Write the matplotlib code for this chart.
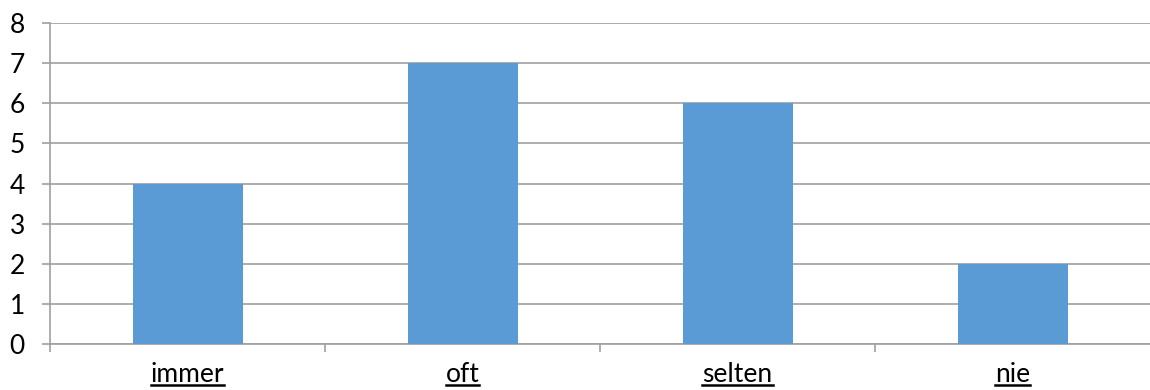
import numpy as np
import matplotlib.pyplot as plt
from matplotlib.lines import Line2D
from matplotlib.ticker import FixedLocator, NullFormatter

# --- Daten ---
categories = ["immer", "oft", "selten", "nie"]
values = [4, 7, 6, 2]
y_ticks = list(range(0, 9))

plt.rcParams['font.family'] = ['Lato', 'DejaVu Sans']

grid_color = '#a0a0a0'
bar_color = '#5b9bd5'

fig = plt.figure(figsize=(11.5, 3.9), dpi=100)
ax = fig.add_axes([50 / 1150, 1 - 344 / 390, 1 - 50 / 1150, (344 - 23) / 390])

x = np.arange(len(categories))
ax.bar(x, values, width=0.4, color=bar_color, zorder=3)

ax.set_xlim(-0.5, len(categories) - 0.5)
ax.set_ylim(0, 8)
ax.set_yticks(y_ticks)
ax.yaxis.grid(True, color=grid_color, linewidth=1.2, zorder=0)

# Kategoriegrenzen als Hauptticks (ohne den rechten Rand), Beschriftungen mittig
ax.xaxis.set_major_locator(FixedLocator(np.arange(-0.5, len(categories) - 1, 1.0)))
ax.xaxis.set_major_formatter(NullFormatter())
ax.xaxis.set_minor_locator(FixedLocator(x))
ax.set_xticklabels(categories, minor=True)

ax.tick_params(axis='x', which='major', direction='out', length=6, width=1.2, color=grid_color)
ax.tick_params(axis='x', which='minor', length=0, pad=13, labelsize=19)
ax.tick_params(axis='y', direction='out', length=6, width=1.2, color=grid_color, labelsize=19, pad=12)

for side in ['top', 'right']:
    ax.spines[side].set_visible(False)
ax.spines['left'].set_color(grid_color)
ax.spines['left'].set_linewidth(1.2)
ax.spines['bottom'].set_color(grid_color)
ax.spines['bottom'].set_linewidth(1.2)

# --- Unterstreichung der Kategorien (Text kann das nicht selbst) ---
fig.canvas.draw()
renderer = fig.canvas.get_renderer()
for lbl in ax.get_xticklabels(minor=True):
    bb = lbl.get_window_extent(renderer)
    y_line = bb.y0 + 2
    fig.add_artist(Line2D([bb.x0, bb.x1], [y_line, y_line], transform=None,
                          color='black', linewidth=1.8))

fig.savefig('out.png', dpi=100)
